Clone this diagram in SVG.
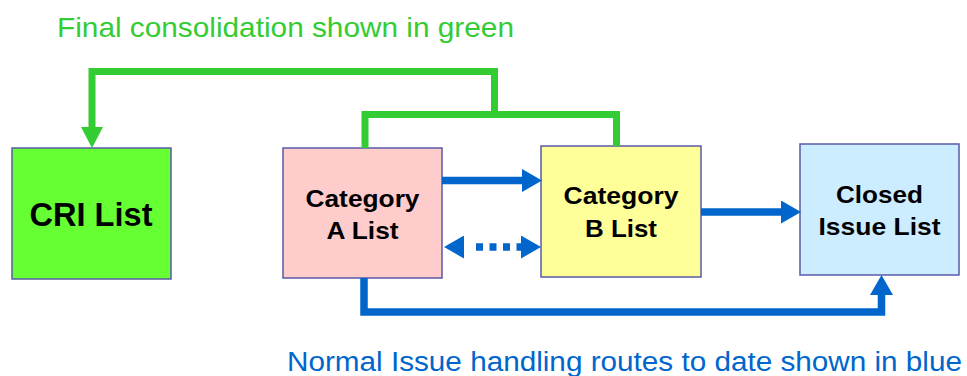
<svg xmlns="http://www.w3.org/2000/svg" width="967" height="376" viewBox="0 0 967 376">
  <style>
    .box { stroke: #5A5AA6; stroke-width: 1.5; }
    .lbl { font-family: "Liberation Sans", Arial, sans-serif; font-weight: bold; fill: #000; text-anchor: middle; }
    .note { font-family: "Liberation Sans", Arial, sans-serif; }
    .green { fill: none; stroke: #33CC33; stroke-width: 7; stroke-linejoin: miter; }
    .blue { fill: none; stroke: #0066CC; stroke-width: 7.5; stroke-linejoin: miter; }
  </style>
  <defs>
    <marker id="headGreen" markerUnits="userSpaceOnUse" viewBox="0 -11 21 22" refX="0" refY="0" markerWidth="21" markerHeight="22" orient="auto">
      <path d="M0,-11 L21,0 L0,11 Z" fill="#33CC33"/>
    </marker>
    <marker id="headBlue" markerUnits="userSpaceOnUse" viewBox="0 -11.5 20 23" refX="0" refY="0" markerWidth="20" markerHeight="23" orient="auto-start-reverse">
      <path d="M0,-11.5 L20,0 L0,11.5 Z" fill="#0066CC"/>
    </marker>
  </defs>

  <!-- captions -->
  <text class="note" x="57" y="37" font-size="28" fill="#33CC33" textLength="457" lengthAdjust="spacingAndGlyphs">Final consolidation shown in green</text>
  <text class="note" x="287" y="371" font-size="27" fill="#0066CC" textLength="675" lengthAdjust="spacingAndGlyphs">Normal Issue handling routes to date shown in blue</text>

  <!-- nodes -->
  <g id="cri-list">
    <rect class="box" x="12" y="148" width="159" height="131" fill="#66FF33"/>
    <text class="lbl" x="91" y="226" font-size="33" textLength="123" lengthAdjust="spacingAndGlyphs">CRI List</text>
  </g>
  <g id="category-a">
    <rect class="box" x="283" y="148" width="159" height="130" fill="#FFCCCC"/>
    <text class="lbl" x="362.5" y="206.5" font-size="24" textLength="114" lengthAdjust="spacingAndGlyphs">Category</text>
    <text class="lbl" x="362.5" y="239" font-size="24" textLength="72" lengthAdjust="spacingAndGlyphs">A List</text>
  </g>
  <g id="category-b">
    <rect class="box" x="541" y="146" width="160" height="131" fill="#FFFF99"/>
    <text class="lbl" x="621" y="204" font-size="24" textLength="115" lengthAdjust="spacingAndGlyphs">Category</text>
    <text class="lbl" x="621" y="237" font-size="24" textLength="72" lengthAdjust="spacingAndGlyphs">B List</text>
  </g>
  <g id="closed-issue">
    <rect class="box" x="800" y="144" width="159" height="131" fill="#CCECFF"/>
    <text class="lbl" x="879.5" y="203" font-size="24" textLength="87" lengthAdjust="spacingAndGlyphs">Closed</text>
    <text class="lbl" x="879.5" y="235" font-size="24" textLength="122" lengthAdjust="spacingAndGlyphs">Issue List</text>
  </g>

  <!-- connectors -->
  <g id="connectors">
    <!-- consolidation into the CRI list -->
    <path class="green" d="M365,148 V114.5 H616.5 V146"/>
    <path class="green" d="M494.5,114.5 V71.5 H92 V127" marker-end="url(#headGreen)"/>
    <!-- normal routes -->
    <path class="blue" d="M442,180.5 H522" marker-end="url(#headBlue)"/>
    <path class="blue" d="M701,212 H781" marker-end="url(#headBlue)"/>
    <path class="blue" d="M364,278 V312 H881.5 V295" marker-end="url(#headBlue)"/>
    <path class="blue" d="M464,247 H521" stroke-dasharray="0 12 7 6.5 7 6.5 7 6.5 7" marker-start="url(#headBlue)" marker-end="url(#headBlue)"/>
  </g>
</svg>
